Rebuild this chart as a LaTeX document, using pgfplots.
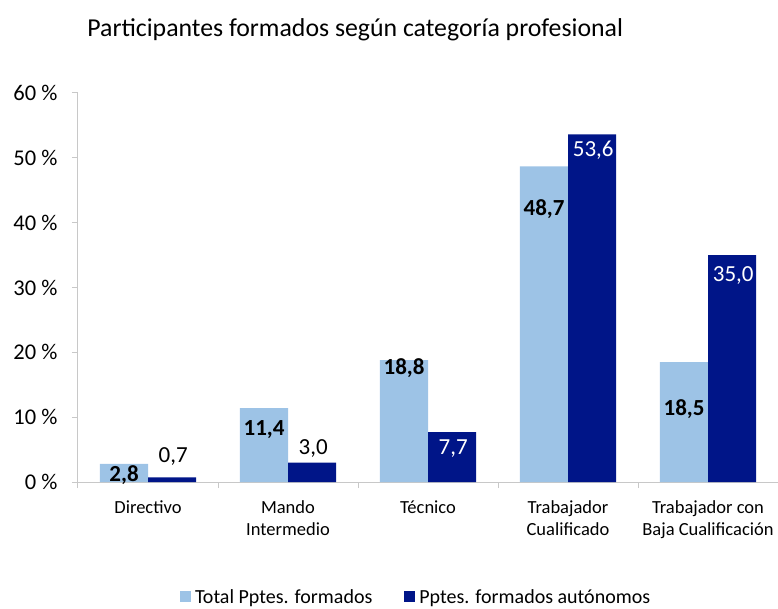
\documentclass[border=0pt]{standalone}
\usepackage{pgfplots}
\pgfplotsset{compat=1.18}
\usepackage{fontspec}
\setmainfont{Carlito}
\definecolor{lightb}{RGB}{157,195,230}
\definecolor{darkb}{RGB}{0,21,136}
\definecolor{axgray}{RGB}{200,200,200}
\begin{document}
\begin{tikzpicture}[x=1pt,y=1pt]
\path[use as bounding box] (0,0) rectangle (778,608);
\begin{axis}[
  at={(78pt,126pt)}, anchor=south west,
  scale only axis, width=700pt, height=389pt,
  ybar=0pt, bar width=0.343,
  xmin=-0.5, xmax=4.5, ymin=0, ymax=60,
  axis x line*=bottom, axis y line*=left,
  axis line style={draw=axgray, line width=1pt},
  xtick={0,1,2,3,4},
  xticklabels={Directivo, Mando\\Intermedio, Técnico, Trabajador\\Cualificado, Trabajador con\\Baja Cualificación},
  x tick label style={font=\fontsize{18.5}{22}\selectfont, align=center, yshift=-9pt},
  minor xtick={-0.5,0.5,1.5,2.5,3.5},
  major x tick style={draw=none},
  minor x tick style={draw=axgray, line width=1pt},
  ytick={0,10,20,30,40,50,60},
  yticklabels={0 \%,10 \%,20 \%,30 \%,40 \%,50 \%,60 \%},
  y tick label style={font=\fontsize{22.5}{26}\selectfont, xshift=-11pt},
  y tick style={draw=axgray, line width=1pt},
  tick align=outside, major tick length=6pt, minor tick length=6pt,
  legend style={at={(rel axis cs:0.483,-0.297)}, anchor=center, draw=none, fill=none,
    legend columns=2, font=\fontsize{20}{24}\selectfont,
    /tikz/every odd column/.append style={column sep=2pt},
    /tikz/every even column/.append style={column sep=30pt}},
  legend image code/.code={\fill[#1] (0pt,-4pt) rectangle (11pt,7pt);},
  clip=false,
]
\addplot[fill=lightb, draw=none] coordinates {(0,2.8) (1,11.4) (2,18.8) (3,48.7) (4,18.5)};
\addplot[fill=darkb, draw=none] coordinates {(0,0.7) (1,3.0) (2,7.7) (3,53.6) (4,35.0)};
\legend{Total Pptes. formados, Pptes. formados autónomos}
\begin{scope}[every node/.style={font=\fontsize{23}{27}\selectfont}]
\node[font=\bfseries\fontsize{23}{27}\selectfont] at (axis cs:-0.171,1.0) {2,8};
\node at (axis cs:0.18,4.0) {0,7};
\node[font=\bfseries\fontsize{23}{27}\selectfont] at (axis cs:0.829,8.1) {11,4};
\node at (axis cs:1.18,5.1) {3,0};
\node[font=\bfseries\fontsize{23}{27}\selectfont] at (axis cs:1.829,17.5) {18,8};
\node[text=white] at (axis cs:2.18,5.2) {7,7};
\node[font=\bfseries\fontsize{23}{27}\selectfont] at (axis cs:2.829,42.1) {48,7};
\node[text=white] at (axis cs:3.18,51.1) {53,6};
\node[font=\bfseries\fontsize{23}{27}\selectfont] at (axis cs:3.829,11.2) {18,5};
\node[text=white] at (axis cs:4.18,31.9) {35,0};
\end{scope}
\node[font=\fontsize{25.8}{30}\selectfont] at (rel axis cs:0.396,1.162) {Participantes formados según categoría profesional};
\end{axis}
\end{tikzpicture}
\end{document}
